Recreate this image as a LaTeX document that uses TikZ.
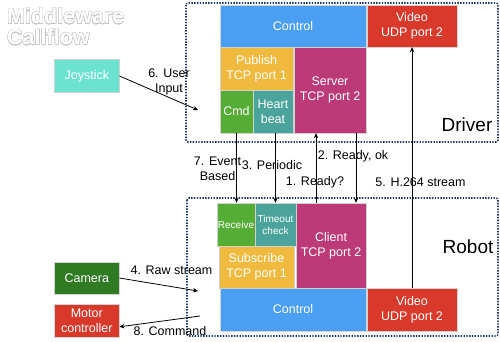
\documentclass[tikz,border=0pt]{standalone}
\usepackage{fontspec}
\setmainfont{Liberation Sans}
\usepackage{contour}
\usetikzlibrary{arrows.meta}
\definecolor{cblue}{HTML}{4A9FF2}
\definecolor{cred}{HTML}{D9392A}
\definecolor{cyellow}{HTML}{EFBA3D}
\definecolor{cgreen}{HTML}{55AD36}
\definecolor{cteal}{HTML}{4BA49C}
\definecolor{cmag}{HTML}{BC3A78}
\definecolor{cnavy}{HTML}{1E3A66}
\definecolor{cjoy}{HTML}{6CE3D0}
\definecolor{ccam}{HTML}{2F7A22}
\tikzset{
  box/.style={draw=gray!35, line width=0.4pt, text=white, align=center, inner sep=0pt,
    font=\fontsize{12.5}{15}\selectfont},
  smallbox/.style={box, font=\fontsize{10}{12}\selectfont},
  zone/.style={draw=cnavy, line width=1.6pt, dash pattern=on 1.4pt off 1.4pt, rounded corners=2pt},
  lbl/.style={align=center, inner sep=0pt, font=\fontsize{12.5}{15}\selectfont},
  zonelbl/.style={inner sep=0pt, font=\fontsize{19}{22}\selectfont},
  arr/.style={-{Stealth[length=5pt,width=4.5pt]}, line width=0.8pt, black},
  ttl/.style={anchor=west, inner sep=0pt, font=\fontsize{21.5}{21}\selectfont\bfseries}
}
\contourlength{0.4pt}
\begin{document}
\begin{tikzpicture}[x=1pt,y=-1pt]
\useasboundingbox (0,0) rectangle (500,341);
% title
\node[ttl] (t1) at (7,16.5) {\textcolor{white}{\contour{gray!45}{Middleware}}};
\node[ttl] (t2) at (7,37.5) {\textcolor{white}{\contour{gray!45}{Callflow}}};
% zones
\draw[zone] (186,3) rectangle (498,142);
\draw[zone] (187,198) rectangle (498,336);
\node[zonelbl] (drv) at (467,125) {Driver};
\node[zonelbl] (rob) at (468,247) {Robot};
% driver boxes
\node[box, fill=cblue, minimum width=146pt, minimum height=42pt] (dctrl) at (293,26) {Control};
\node[box, fill=cred, minimum width=90pt, minimum height=42pt] (dvid) at (412,26) {Video\\UDP port 2};
\node[box, fill=cyellow, minimum width=73pt, minimum height=43pt] (pub) at (256.5,68.5) {Publish\\TCP port 1};
\node[box, fill=cgreen, minimum width=33pt, minimum height=43pt] (cmd) at (236.5,111.5) {Cmd};
\node[box, fill=cteal, minimum width=40pt, minimum height=43pt] (hb) at (273,111.5) {Heart\\beat};
\node[box, fill=cmag, minimum width=72pt, minimum height=86pt] (srv) at (330,90) {Server\\TCP port 2};
% robot boxes
\node[smallbox, fill=cgreen, minimum width=38pt, minimum height=43pt] (recv) at (236,224.5) {Receive};
\node[smallbox, fill=cteal, minimum width=41pt, minimum height=43pt] (tmo) at (275.5,224.5) {Timeout\\check};
\node[box, fill=cyellow, minimum width=75pt, minimum height=42pt] (sub) at (256.5,267) {Subscribe\\TCP port 1};
\node[box, fill=cmag, minimum width=70pt, minimum height=85pt] (cli) at (331,245.5) {Client\\TCP port 2};
\node[box, fill=cblue, minimum width=146pt, minimum height=43pt] (rctrl) at (293,309.5) {Control};
\node[box, fill=cred, minimum width=90pt, minimum height=43pt] (rvid) at (412,309.5) {Video\\UDP port 2};
% external devices
\node[box, fill=cjoy, minimum width=65pt, minimum height=33pt] (joy) at (86.8,76) {Joystick};
\node[box, fill=ccam, minimum width=65pt, minimum height=32pt] (cam) at (86.8,278) {Camera};
\node[box, fill=cred, minimum width=65pt, minimum height=33pt] (mot) at (86.8,320.8) {Motor\\controller};
% connectors
\draw[arr] (cmd.south) -- (cmd.south |- recv.north);
\draw[arr] (tmo.north |- hb.south) -- (tmo.north);
\draw[arr] ([xshift=-15pt]cli.north) -- ([xshift=-15pt]cli.north |- srv.south);
\draw[arr] ([xshift=25pt]cli.north |- srv.south) -- ([xshift=25pt]cli.north);
\draw[arr] (rvid.north) -- (dvid.south);
\coordinate (jend) at (198,110);
\coordinate (cend) at (198,291);
\coordinate (mstart) at (200,316);
\draw[arr] (joy.east) -- (jend);
\draw[arr] (cam.east) -- (cend);
\draw[arr] (mstart) -- ([yshift=-6pt]mot.east);
% labels
\node[lbl] (l6) at (169,81.5) {6. User\\Input};
\node[lbl] (l7) at (217.5,168.5) {7. Event\\Based};
\node[lbl] (l3) at (272,165) {3. Periodic};
\node[lbl] (l2) at (353,156) {2. Ready, ok};
\node[lbl] (l1) at (315,182) {1. Ready?};
\node[lbl] (l5) at (420.5,182) {5. H.264 stream};
\node[lbl] (l4) at (171.5,270.5) {4. Raw stream};
\node[lbl] (l8) at (170,331.5) {8. Command};
\end{tikzpicture}
\end{document}
